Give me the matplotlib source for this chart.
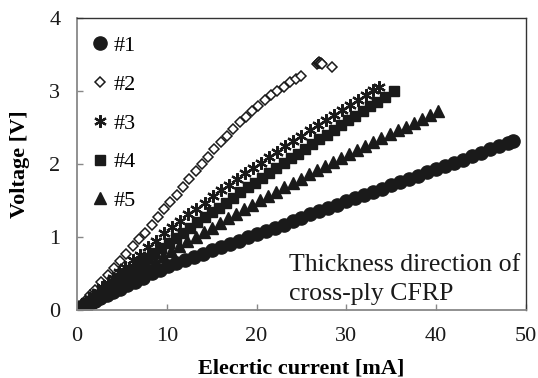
import matplotlib
matplotlib.use("Agg")
import matplotlib.pyplot as plt

plt.rcParams['font.family'] = ['Liberation Serif', 'DejaVu Serif']

# Sample #1 (filled circles)
i1 = [0, 0.2, 0.4, 0.7, 1.0, 1.5, 2.0, 2.6, 3.3, 4.0, 4.8, 5.6, 6.5, 7.4, 8.3, 9.2,
      10.1, 11, 12, 13, 14, 15, 16, 17, 18, 19, 20, 21, 22, 23, 24, 25, 26, 27, 28,
      29, 30, 31, 32, 33, 34, 35, 36, 37, 38, 39, 40, 41, 42, 43, 44, 45, 46, 47, 48, 48.5]
v1 = [0, 0.01, 0.02, 0.04, 0.06, 0.09, 0.12, 0.16, 0.20, 0.24, 0.29, 0.34, 0.39, 0.44, 0.50, 0.55,
      0.60, 0.64, 0.68, 0.73, 0.77, 0.82, 0.86, 0.91, 0.95, 1.00, 1.04, 1.08, 1.13, 1.17, 1.22, 1.26,
      1.31, 1.35, 1.40, 1.44, 1.49, 1.53, 1.57, 1.62, 1.66, 1.71, 1.75, 1.80, 1.84, 1.89, 1.93, 1.97,
      2.02, 2.06, 2.11, 2.15, 2.20, 2.24, 2.29, 2.31]

# Sample #2 (open diamonds)
i2 = [0, 0.3, 0.6, 1.0, 1.4, 2.0, 2.7, 3.4, 4.1, 4.8, 5.5, 6.2, 6.9, 7.6, 8.3, 9.0, 9.7,
      10.4, 11.1, 11.8, 12.5, 13.2, 13.9, 14.6, 15.3, 16.0, 16.7, 17.4, 18.1, 18.8, 19.5,
      20.2, 20.9, 21.6, 22.3, 23.0, 23.7, 24.4, 24.9,
      26.7, 26.8, 26.9, 27.0, 27.1, 27.2, 27.3, 28.4]
v2 = [0, 0.04, 0.08, 0.14, 0.20, 0.28, 0.38, 0.48, 0.57, 0.67, 0.77, 0.87, 0.97, 1.06, 1.17,
      1.27, 1.38, 1.48, 1.58, 1.68, 1.79, 1.90, 2.00, 2.10, 2.20, 2.30, 2.39, 2.48, 2.57, 2.65,
      2.72, 2.80, 2.87, 2.94, 3.00, 3.06, 3.12, 3.17, 3.20,
      3.37, 3.38, 3.39, 3.40, 3.39, 3.38, 3.37, 3.33]

# Sample #3 (asterisks)
i3 = [0, 0.2, 0.4, 0.7, 1.0, 1.4, 1.8, 2.3, 2.8, 3.4, 4.0, 4.7, 5.4, 6.2, 7.0, 7.9, 8.8,
      9.7, 10.6, 11.5, 12.4, 13.3, 14.2, 15.1, 16.0, 16.9, 17.8, 18.7, 19.6, 20.5, 21.4,
      22.3, 23.2, 24.1, 25.0, 25.9, 26.8, 27.7, 28.6, 29.5, 30.4, 31.3, 32.2, 33.0, 33.6]
v3 = [0, 0.02, 0.04, 0.08, 0.11, 0.15, 0.20, 0.25, 0.31, 0.37, 0.44, 0.52, 0.59, 0.68, 0.76,
      0.86, 0.95, 1.05, 1.14, 1.22, 1.31, 1.39, 1.47, 1.56, 1.64, 1.71, 1.79, 1.87, 1.95, 2.02,
      2.10, 2.17, 2.24, 2.32, 2.39, 2.46, 2.53, 2.60, 2.67, 2.74, 2.81, 2.88, 2.95, 3.01, 3.06]

# Sample #4 (filled squares)
i4 = [0, 0.2, 0.4, 0.7, 1.0, 1.4, 1.8, 2.3, 2.8, 3.4, 4.0, 4.7, 5.4, 6.2, 7.0, 7.8, 8.6,
      9.4, 10.2, 11.0, 11.8, 12.6, 13.4, 14.2, 15.0, 15.8, 16.6, 17.4, 18.2, 19.0, 19.8,
      20.6, 21.4, 22.2, 23.0, 23.8, 24.6, 25.4, 26.2, 27.0, 27.8, 28.6, 29.4, 30.2, 31.0,
      31.8, 32.6, 33.4, 34.3, 35.3]
v4 = [0, 0.02, 0.04, 0.06, 0.09, 0.13, 0.17, 0.21, 0.26, 0.31, 0.36, 0.43, 0.49, 0.56, 0.63,
      0.71, 0.78, 0.85, 0.92, 0.99, 1.06, 1.13, 1.20, 1.27, 1.34, 1.40, 1.47, 1.54, 1.61, 1.68,
      1.74, 1.81, 1.88, 1.94, 2.01, 2.08, 2.14, 2.21, 2.27, 2.34, 2.40, 2.47, 2.53, 2.60, 2.66,
      2.72, 2.79, 2.85, 2.92, 3.00]

# Sample #5 (filled triangles)
i5 = [0, 0.2, 0.4, 0.7, 1.0, 1.4, 1.9, 2.4, 3.0, 3.7, 4.4, 5.2, 6.0, 6.9, 7.8, 8.7, 9.6,
      10.5, 11.4, 12.3, 13.2, 14.1, 15.0, 15.9, 16.8, 17.7, 18.6, 19.5, 20.4, 21.3, 22.2,
      23.1, 24.0, 24.9, 25.8, 26.7, 27.6, 28.5, 29.4, 30.3, 31.2, 32.1, 33.0, 33.9, 34.8,
      35.7, 36.6, 37.5, 38.4, 39.3, 40.2]
v5 = [0, 0.02, 0.03, 0.06, 0.08, 0.11, 0.15, 0.19, 0.24, 0.29, 0.35, 0.41, 0.47, 0.54, 0.61,
      0.67, 0.74, 0.81, 0.87, 0.94, 1.00, 1.07, 1.13, 1.19, 1.26, 1.32, 1.38, 1.44, 1.50, 1.56,
      1.62, 1.68, 1.74, 1.80, 1.86, 1.92, 1.97, 2.03, 2.08, 2.14, 2.19, 2.25, 2.30, 2.36, 2.41,
      2.46, 2.51, 2.56, 2.61, 2.67, 2.72]

labels = ['#1', '#2', '#3', '#4', '#5']
x_ticks = [0, 10, 20, 30, 40, 50]
y_ticks = [0, 1, 2, 3, 4]

fig = plt.figure(figsize=(5.38, 3.78), dpi=100)
ax = fig.add_axes([0.1431, 0.1799, 0.8346, 0.7725])

ink = '#1a1a1a'
ax.plot(i1, v1, ls='none', marker='o', ms=9.5, mfc=ink, mec=ink, label=labels[0])
ax.plot(i2, v2, ls='none', marker='D', ms=5.6, mfc='white', mec=ink, mew=1.1, label=labels[1])
ax.plot(i3, v3, ls='none', marker=(6, 2, 0), ms=9.0, mec=ink, mew=1.6, label=labels[2])
ax.plot(i4, v4, ls='none', marker='s', ms=7.3, mfc=ink, mec=ink, label=labels[3])
ax.plot(i5, v5, ls='none', marker='^', ms=9.0, mfc=ink, mec=ink, label=labels[4])

ax.set_xlim(0, 50)
ax.set_ylim(0, 4)
ax.set_xticks(x_ticks)
ax.set_yticks(y_ticks)
ax.tick_params(axis='both', direction='in', length=4, width=1, color='#888888',
               labelsize=16, labelcolor=ink)
ax.tick_params(axis='x', pad=12)
ax.tick_params(axis='y', pad=12)

for side in ('left', 'bottom'):
    ax.spines[side].set_color('#888888')
    ax.spines[side].set_linewidth(1.3)
for side in ('top', 'right'):
    ax.spines[side].set_color('#333333')
    ax.spines[side].set_linewidth(1.0)

ax.set_xlabel('Elecrtic current [mA]', fontsize=16, fontweight='bold', labelpad=9)
ax.set_ylabel('Voltage [V]', fontsize=16, fontweight='bold', labelpad=14)

ax.text(0.472, 0.018, 'Thickness direction of\ncross-ply CFRP', transform=ax.transAxes,
        fontsize=18.6, ha='left', va='bottom', color=ink, linespacing=1.38)

ax.legend(loc='upper left', bbox_to_anchor=(0.02, 0.955), frameon=False, numpoints=1,
          fontsize=16, handlelength=0.9, handletextpad=0.15, labelspacing=0.82,
          borderpad=0.2, borderaxespad=0)

fig.savefig('out.png', dpi=100)
